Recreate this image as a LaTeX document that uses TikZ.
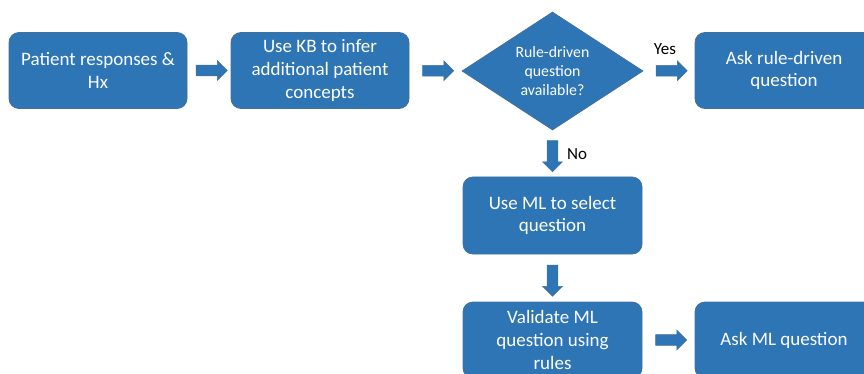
\documentclass[tikz,border=0pt]{standalone}
\usepackage{fontspec}
\setmainfont{Carlito}
\usetikzlibrary{shapes.geometric,shapes.arrows,calc}
\definecolor{boxblue}{HTML}{2E75B6}
\definecolor{boxedge}{HTML}{41719C}
\begin{document}
\begin{tikzpicture}[x=1pt,y=-1pt,
  box/.style={draw=boxedge, line width=0.8pt, fill=boxblue, rounded corners=10pt,
    minimum width=178pt, minimum height=76pt, text=white, align=center,
    font=\fontsize{19}{22.7}\selectfont, inner sep=0pt},
  decision/.style={diamond, aspect=1.53, draw=boxedge, line width=0.8pt, fill=boxblue,
    minimum width=181pt, minimum height=118pt, text=white, align=center,
    font=\fontsize{15.8}{19}\selectfont, inner sep=0pt},
  barrow/.style={single arrow, draw=boxedge, line width=0.6pt, fill=boxblue,
    minimum height=31pt, single arrow head extend=4.5pt,
    single arrow head indent=0pt, inner sep=5pt},
  lbl/.style={font=\fontsize{17}{20}\selectfont, text=black, inner sep=0pt}
]
\useasboundingbox (0,0) rectangle (864,374);
\clip (0,0) rectangle (864,374);

\node[box] (b1) at (98,70.5) {Patient responses \&\\Hx};
\node[box] (b2) at (320,70.5) {Use KB to infer\\additional patient\\concepts};
\node[decision] (d) at (552.5,71) {Rule-driven\\question\\available?};
\node[box] (b4) at (784,70.5) {Ask rule-driven\\question};
\node[box, minimum width=179pt, minimum height=77pt] (b5) at (552.5,215.5) {Use ML to select\\question};
\node[box, minimum width=179pt] (b6) at (552.5,340) {Validate ML\\question using\\rules};
\node[box] (b7) at (784,340) {Ask ML question};

\node[barrow] (a1) at ($(b1.east)!0.5!(b2.west)$) {};
\node[barrow] (a2) at ($(b2.east)!0.5!(d.west)$) {};
\node[barrow] (a3) at ($(d.east)!0.5!(b4.west)$) {};
\node[barrow, shape border rotate=270] (a4) at ($(d.south)!0.5!(b5.north)$) {};
\node[barrow, shape border rotate=270] (a5) at ($(b5.south)!0.5!(b6.north)$) {};
\node[barrow] (a6) at ($(b6.east)!0.5!(b7.west)$) {};

\node[lbl] (yes) at (665,49) {Yes};
\node[lbl] (no) at (577,154) {No};
\end{tikzpicture}
\end{document}
